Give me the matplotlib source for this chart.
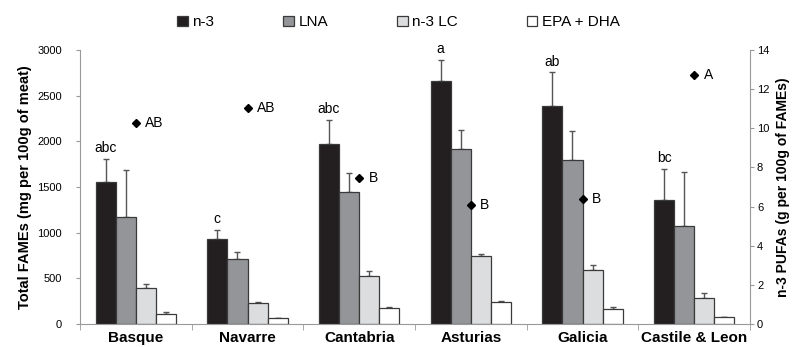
import matplotlib
matplotlib.use("Agg")
import matplotlib.pyplot as plt
import numpy as np

plt.rcParams["font.family"] = ["Liberation Sans", "DejaVu Sans"]

regions = ["Basque", "Navarre", "Cantabria", "Asturias", "Galicia", "Castile & Leon"]
series = ["n-3", "LNA", "n-3 LC", "EPA + DHA"]

# mg per 100 g of meat (left axis)
n3 = [1560, 935, 1967, 2659, 2384, 1359]
n3_err = [252, 98, 272, 232, 370, 337]
lna = [1167, 710, 1442, 1920, 1797, 1072]
lna_err = [518, 83, 217, 200, 315, 595]
n3lc = [395, 228, 529, 743, 591, 290]
n3lc_err = [40, 18, 54, 29, 61, 47]
epa_dha = [113, 65, 174, 246, 170, 76]
epa_dha_err = [14, 5, 11, 11, 18, 7]
n3_letters = ["abc", "c", "abc", "a", "ab", "bc"]

# g per 100 g of FAMEs (right axis)
pufa = [10.26, 11.02, 7.45, 6.09, 6.39, 12.74]
pufa_letters = ["AB", "AB", "B", "B", "B", "A"]

colors = ["#231f20", "#939598", "#dcddde", "#ffffff"]
values = [n3, lna, n3lc, epa_dha]
errors = [n3_err, lna_err, n3lc_err, epa_dha_err]

fig = plt.figure(figsize=(8.05, 3.47), dpi=100)
ax = fig.add_axes([0.0994, 0.066, 0.8323, 0.79])
ax2 = ax.twinx()

x = np.arange(len(regions))
w = 0.18
offsets = [-1.5 * w, -0.5 * w, 0.5 * w, 1.5 * w]
handles = []
for vals, errs, col, off, name in zip(values, errors, colors, offsets, series):
    b = ax.bar(x + off, vals, w, color=col, edgecolor="#3a3a3a", linewidth=0.9,
               label=name, zorder=2)
    ax.errorbar(x + off, vals, yerr=[np.zeros(len(vals)), errs], fmt="none",
                ecolor="#555555", elinewidth=1, capsize=2.5, capthick=1, zorder=1)
    handles.append(b)

# significance letters over the n-3 bars
for xi, v, e, lab in zip(x, n3, n3_err, n3_letters):
    ax.text(xi + offsets[0], v + e + 40, lab, ha="center", va="bottom", fontsize=10)

ax2.plot(x, pufa, "D", color="black", markersize=4.4, zorder=3)
for xi, v, lab in zip(x, pufa, pufa_letters):
    ax2.text(xi + 0.085, v, lab, ha="left", va="center", fontsize=10)

ax.set_xlim(-0.5, len(regions) - 0.5)
ax.set_ylim(0, 3000)
ax.set_yticks(np.arange(0, 3001, 500))
ax2.set_ylim(0, 14)
ax2.set_yticks(np.arange(0, 15, 2))

ax.set_xticks(x)
ax.set_xticklabels(regions, fontsize=11, fontweight="bold")
ax.set_xticks(np.arange(-0.5, len(regions), 1), minor=True)
ax.tick_params(axis="x", which="major", length=0, pad=5)
ax.tick_params(axis="x", which="minor", length=4, color="#999999")
ax.tick_params(axis="y", labelsize=8, length=3, color="#999999", pad=10)
ax2.tick_params(axis="y", labelsize=8, length=3, color="#999999", pad=2)

for a in (ax, ax2):
    a.spines["top"].set_visible(False)
    for s in ("left", "right", "bottom"):
        a.spines[s].set_color("#999999")
ax.spines["right"].set_visible(False)
ax2.spines["left"].set_visible(False)
ax2.spines["bottom"].set_visible(False)

ax.set_ylabel("Total FAMEs (mg per 100g of meat)", fontsize=10.5, fontweight="bold",
              labelpad=4)
ax2.set_ylabel("n-3 PUFAs (g per 100g of FAMEs)", fontsize=10, fontweight="bold",
               labelpad=5)

fig.legend(handles, series, loc="upper center", bbox_to_anchor=(0.495, 0.995),
           ncol=4, frameon=False, fontsize=11, handlelength=0.7, handleheight=0.7,
           handletextpad=0.3, columnspacing=4.5)

fig.savefig("out.png", dpi=100)
